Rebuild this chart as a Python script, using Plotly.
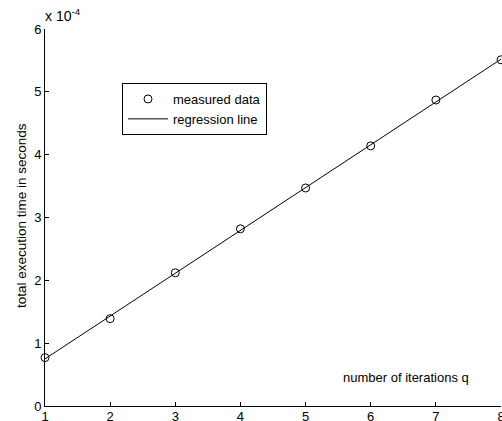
import plotly.graph_objects as go

iterations = [1, 2, 3, 4, 5, 6, 7, 8]
measured = [0.77, 1.39, 2.12, 2.82, 3.47, 4.14, 4.87, 5.51]  # x 1e-4 s
reg_x = [1, 8]
reg_y = [0.75, 5.52]
x_ticks = [1, 2, 3, 4, 5, 6, 7, 8]
y_ticks = [0, 1, 2, 3, 4, 5, 6]

font = "Liberation Sans, Arial, sans-serif"

# plot area spans x 45..501, y 29..406 in the window (body margin removed)
L, R, T, B = 45, 1, 29, 15
W, H = 502, 421
pw = W - L - R
ph = H - T - B


def px(xw):
    return (xw - L) / pw


def py(yw):
    return (H - B - yw) / ph


fig = go.Figure()
fig.add_trace(go.Scatter(
    x=iterations, y=measured, mode="markers", name="measured data",
    marker=dict(symbol="circle-open", size=8, color="black", line=dict(width=1, color="black")),
    cliponaxis=False,
))
fig.add_trace(go.Scatter(
    x=reg_x, y=reg_y, mode="lines", name="regression line",
    line=dict(color="black", width=1),
))

fig.update_layout(
    width=W, height=H,
    margin=dict(l=L, r=R, t=T, b=B, autoexpand=False),
    paper_bgcolor="white", plot_bgcolor="white",
    font=dict(family=font, size=13, color="black"),
    showlegend=True,
    legend=dict(
        x=px(122), y=py(83), xanchor="left", yanchor="top",
        bordercolor="black", borderwidth=1, bgcolor="white",
        font=dict(size=13, family=font), itemwidth=40,
        tracegroupgap=0,
    ),
    xaxis=dict(
        range=[1, 8], tickvals=x_ticks, ticktext=[str(t) for t in x_ticks],
        ticks="inside", ticklen=4, tickcolor="black",
        showline=True, linecolor="black", linewidth=1,
        showgrid=False, zeroline=False, automargin=False,
        tickfont=dict(size=13), ticklabeloverflow="allow", ticklabelstandoff=-2,
    ),
    yaxis=dict(
        range=[0, 6], tickvals=y_ticks, ticktext=[str(t) for t in y_ticks],
        ticks="inside", ticklen=4, tickcolor="black",
        showline=True, linecolor="black", linewidth=1,
        showgrid=False, zeroline=False, automargin=False,
        tickfont=dict(size=13), ticklabeloverflow="allow",
    ),
    annotations=[
        dict(text="x 10<sup>-4</sup>", xref="paper", yref="paper", x=px(43), y=py(26),
             xanchor="left", yanchor="bottom", showarrow=False, font=dict(size=14)),
        dict(text="number of iterations q", xref="paper", yref="paper",
             x=px(406), y=py(377), xanchor="center", yanchor="middle",
             showarrow=False, font=dict(size=13)),
        dict(text="total execution time in seconds", xref="paper", yref="paper",
             x=px(21), y=py(216), xanchor="center", yanchor="middle", textangle=-90,
             showarrow=False, font=dict(size=13.5)),
    ],
)

fig.write_html(
    "out.html",
    config={"displayModeBar": False},
    post_script="document.body.style.margin='0';document.body.style.overflow='hidden';",
)
